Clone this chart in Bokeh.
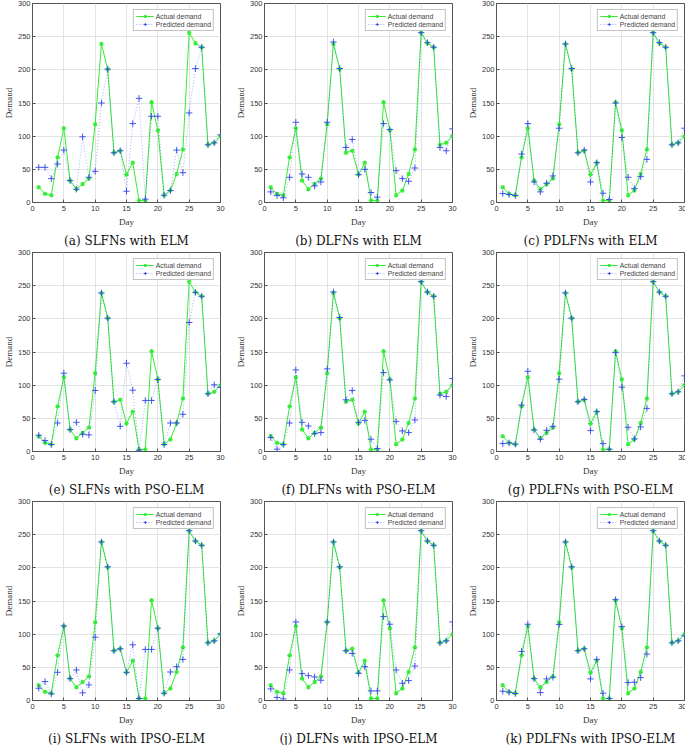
from bokeh.plotting import figure
from bokeh.layouts import column, row
from bokeh.models import Range1d, FixedTicker, Title
from bokeh.embed import file_html
from bokeh.resources import INLINE

days = list(range(1, 31))
actual = [23, 13, 11, 68, 112, 33, 20, 28, 36, 118, 239, 201, 75, 78, 42, 60, 3, 3,
          151, 109, 11, 18, 43, 80, 256, 240, 234, 87, 90, 100]

pred_slfn_elm = [53, 53, 36, 58, 79, 33, 20, 99, 38, 47, 150, 201, 75, 78, 17, 119, 157, 5,
                 130, 130, 11, 18, 79, 45, 135, 202, 234, 87, 90, 102]
pred_dlfn_elm = [16, 10.5, 7, 38, 121, 43, 38, 25, 31, 121, 242, 202, 83, 95, 42, 50, 15, 8,
                 119, 110, 48, 36, 32, 52, 256, 241, 234, 83, 78, 111]
pred_pdlfn_elm = [13.5, 12, 10.5, 73, 119, 31, 16, 29, 40, 112, 239, 202, 75, 79, 31, 60, 14, 4.5,
                  150, 98, 38, 21, 39, 65, 256, 241, 234, 87, 90, 112]
pred_slfn_pso = [24.5, 16.5, 10.5, 43, 118, 33, 44, 26, 25, 92, 239, 201, 75, 38, 133, 92.5, 2, 77,
                 77, 108.5, 10.5, 43, 43, 56, 194.5, 240, 234, 87, 100.5, 96.5]
pred_dlfn_pso = [21, 3.5, 10.5, 43, 123, 44, 38.5, 27, 28.5, 124.5, 240.5, 202, 78, 92, 44, 47, 18.5, 4.5,
                 119, 108, 45.5, 31, 28.5, 47.5, 256, 240.5, 234, 85, 83, 110]
pred_pdlfn_pso = [12, 13, 11, 70, 121, 32.5, 18.5, 32, 38, 109, 239, 201, 75, 78.5, 31.5, 60, 12, 3.5,
                  149, 97, 36.5, 19, 37, 65, 256, 240.5, 234, 87, 90, 114]
pred_slfn_ipso = [18.5, 28.5, 10, 42.5, 112.5, 33, 46, 11.5, 23.5, 95.5, 239, 201.5, 75, 78, 42.5, 84, 3, 77,
                  77, 109, 11, 43, 51, 62, 256, 240.5, 234, 87, 90, 100.5]
pred_dlfn_ipso = [17.5, 4.5, 2.5, 46, 118.5, 40.5, 37.5, 35.5, 30.5, 118.5, 239, 201.5, 75, 71, 41, 51, 14.5, 14.5,
                  126.5, 115, 46, 26, 30, 52, 256, 240.5, 234, 87, 90, 118.5]
pred_pdlfn_ipso = [14, 12.5, 10.5, 74, 115, 33, 12, 32.5, 35, 114.5, 239, 201.5, 75, 78, 32.5, 62, 11, 3,
                   152, 111.5, 27, 27.5, 34.5, 70, 256, 240.5, 234, 87, 90, 97.5]

captions = ["(a) SLFNs with ELM", "(b) DLFNs with ELM", "(c) PDLFNs with ELM",
            "(e) SLFNs with PSO-ELM", "(f) DLFNs with PSO-ELM", "(g) PDLFNs with PSO-ELM",
            "(i) SLFNs with IPSO-ELM", "(j) DLFNs with IPSO-ELM", "(k) PDLFNs with IPSO-ELM"]
preds = [pred_slfn_elm, pred_dlfn_elm, pred_pdlfn_elm,
         pred_slfn_pso, pred_dlfn_pso, pred_pdlfn_pso,
         pred_slfn_ipso, pred_dlfn_ipso, pred_pdlfn_ipso]

x_ticks = [0, 5, 10, 15, 20, 25, 30]
y_ticks = [0, 50, 100, 150, 200, 250, 300]

GREEN = "#33ee33"
BLUE = "#3344ee"
AXIS = "#555555"


def panel(i):
    col = i % 3
    p = figure(frame_width=188, frame_height=199, output_backend="svg", toolbar_location=None,
               x_range=Range1d(0, 30), y_range=Range1d(0, 300),
               min_border_left=22, min_border_right=(12 if col < 2 else 2),
               min_border_top=3, min_border_bottom=46)
    p.line(days, actual, color=GREEN, line_width=1, legend_label="Actual demand")
    p.scatter(days, actual, marker="asterisk", size=4.5, line_color=GREEN, line_width=1.1,
              legend_label="Actual demand")
    p.line(days, preds[i], color=BLUE, line_width=0.8, line_alpha=0.55, line_dash="1 2",
           legend_label="Predicted demand")
    p.scatter(days, preds[i], marker="cross", size=6.5, line_color=BLUE, line_width=0.9,
              legend_label="Predicted demand")

    for ax in (p.xaxis[0], p.yaxis[0]):
        ax.major_tick_in = 3
        ax.major_tick_out = 0
        ax.minor_tick_line_color = None
        ax.axis_line_color = AXIS
        ax.major_tick_line_color = AXIS
        ax.major_label_text_font = "Liberation Sans"
        ax.major_label_text_font_size = "7.5px"
        ax.major_label_text_color = "#333333"
        ax.major_label_standoff = 2
        ax.axis_label_text_font = "Liberation Serif"
        ax.axis_label_text_font_style = "normal"
        ax.axis_label_text_font_size = "9px"
        ax.axis_label_text_color = "#333333"
        ax.axis_label_standoff = 1
    p.xaxis.ticker = FixedTicker(ticks=x_ticks)
    p.yaxis.ticker = FixedTicker(ticks=y_ticks)
    p.xaxis.axis_label = "Day"
    p.yaxis.axis_label = "Demand"
    p.xaxis.major_label_standoff = 3
    p.xaxis.axis_label_standoff = 3
    p.outline_line_color = AXIS
    p.outline_line_width = 1
    p.xgrid.grid_line_color = "#e3e3e3"
    p.ygrid.grid_line_color = "#e3e3e3"

    lg = p.legend[0]
    lg.location = "top_right"
    lg.margin = 6
    lg.padding = 2
    lg.spacing = 0
    lg.label_text_font = "Liberation Sans"
    lg.label_text_font_size = "6.8px"
    lg.label_height = 8
    lg.glyph_height = 8
    lg.glyph_width = 18
    lg.label_standoff = 2
    lg.border_line_color = "#888888"
    lg.border_line_width = 0.8
    lg.background_fill_alpha = 1

    t = Title(text=captions[i], align="center", text_font="DejaVu Serif",
              text_font_size="12px", text_font_style="normal", text_color="#111111",
              standoff=4)
    p.add_layout(t, "below")
    return p


plots = [panel(i) for i in range(9)]
layout = column(row(plots[0:3]), row(plots[3:6]), row(plots[6:9]))
open("out.html", "w").write(file_html(layout, INLINE))
